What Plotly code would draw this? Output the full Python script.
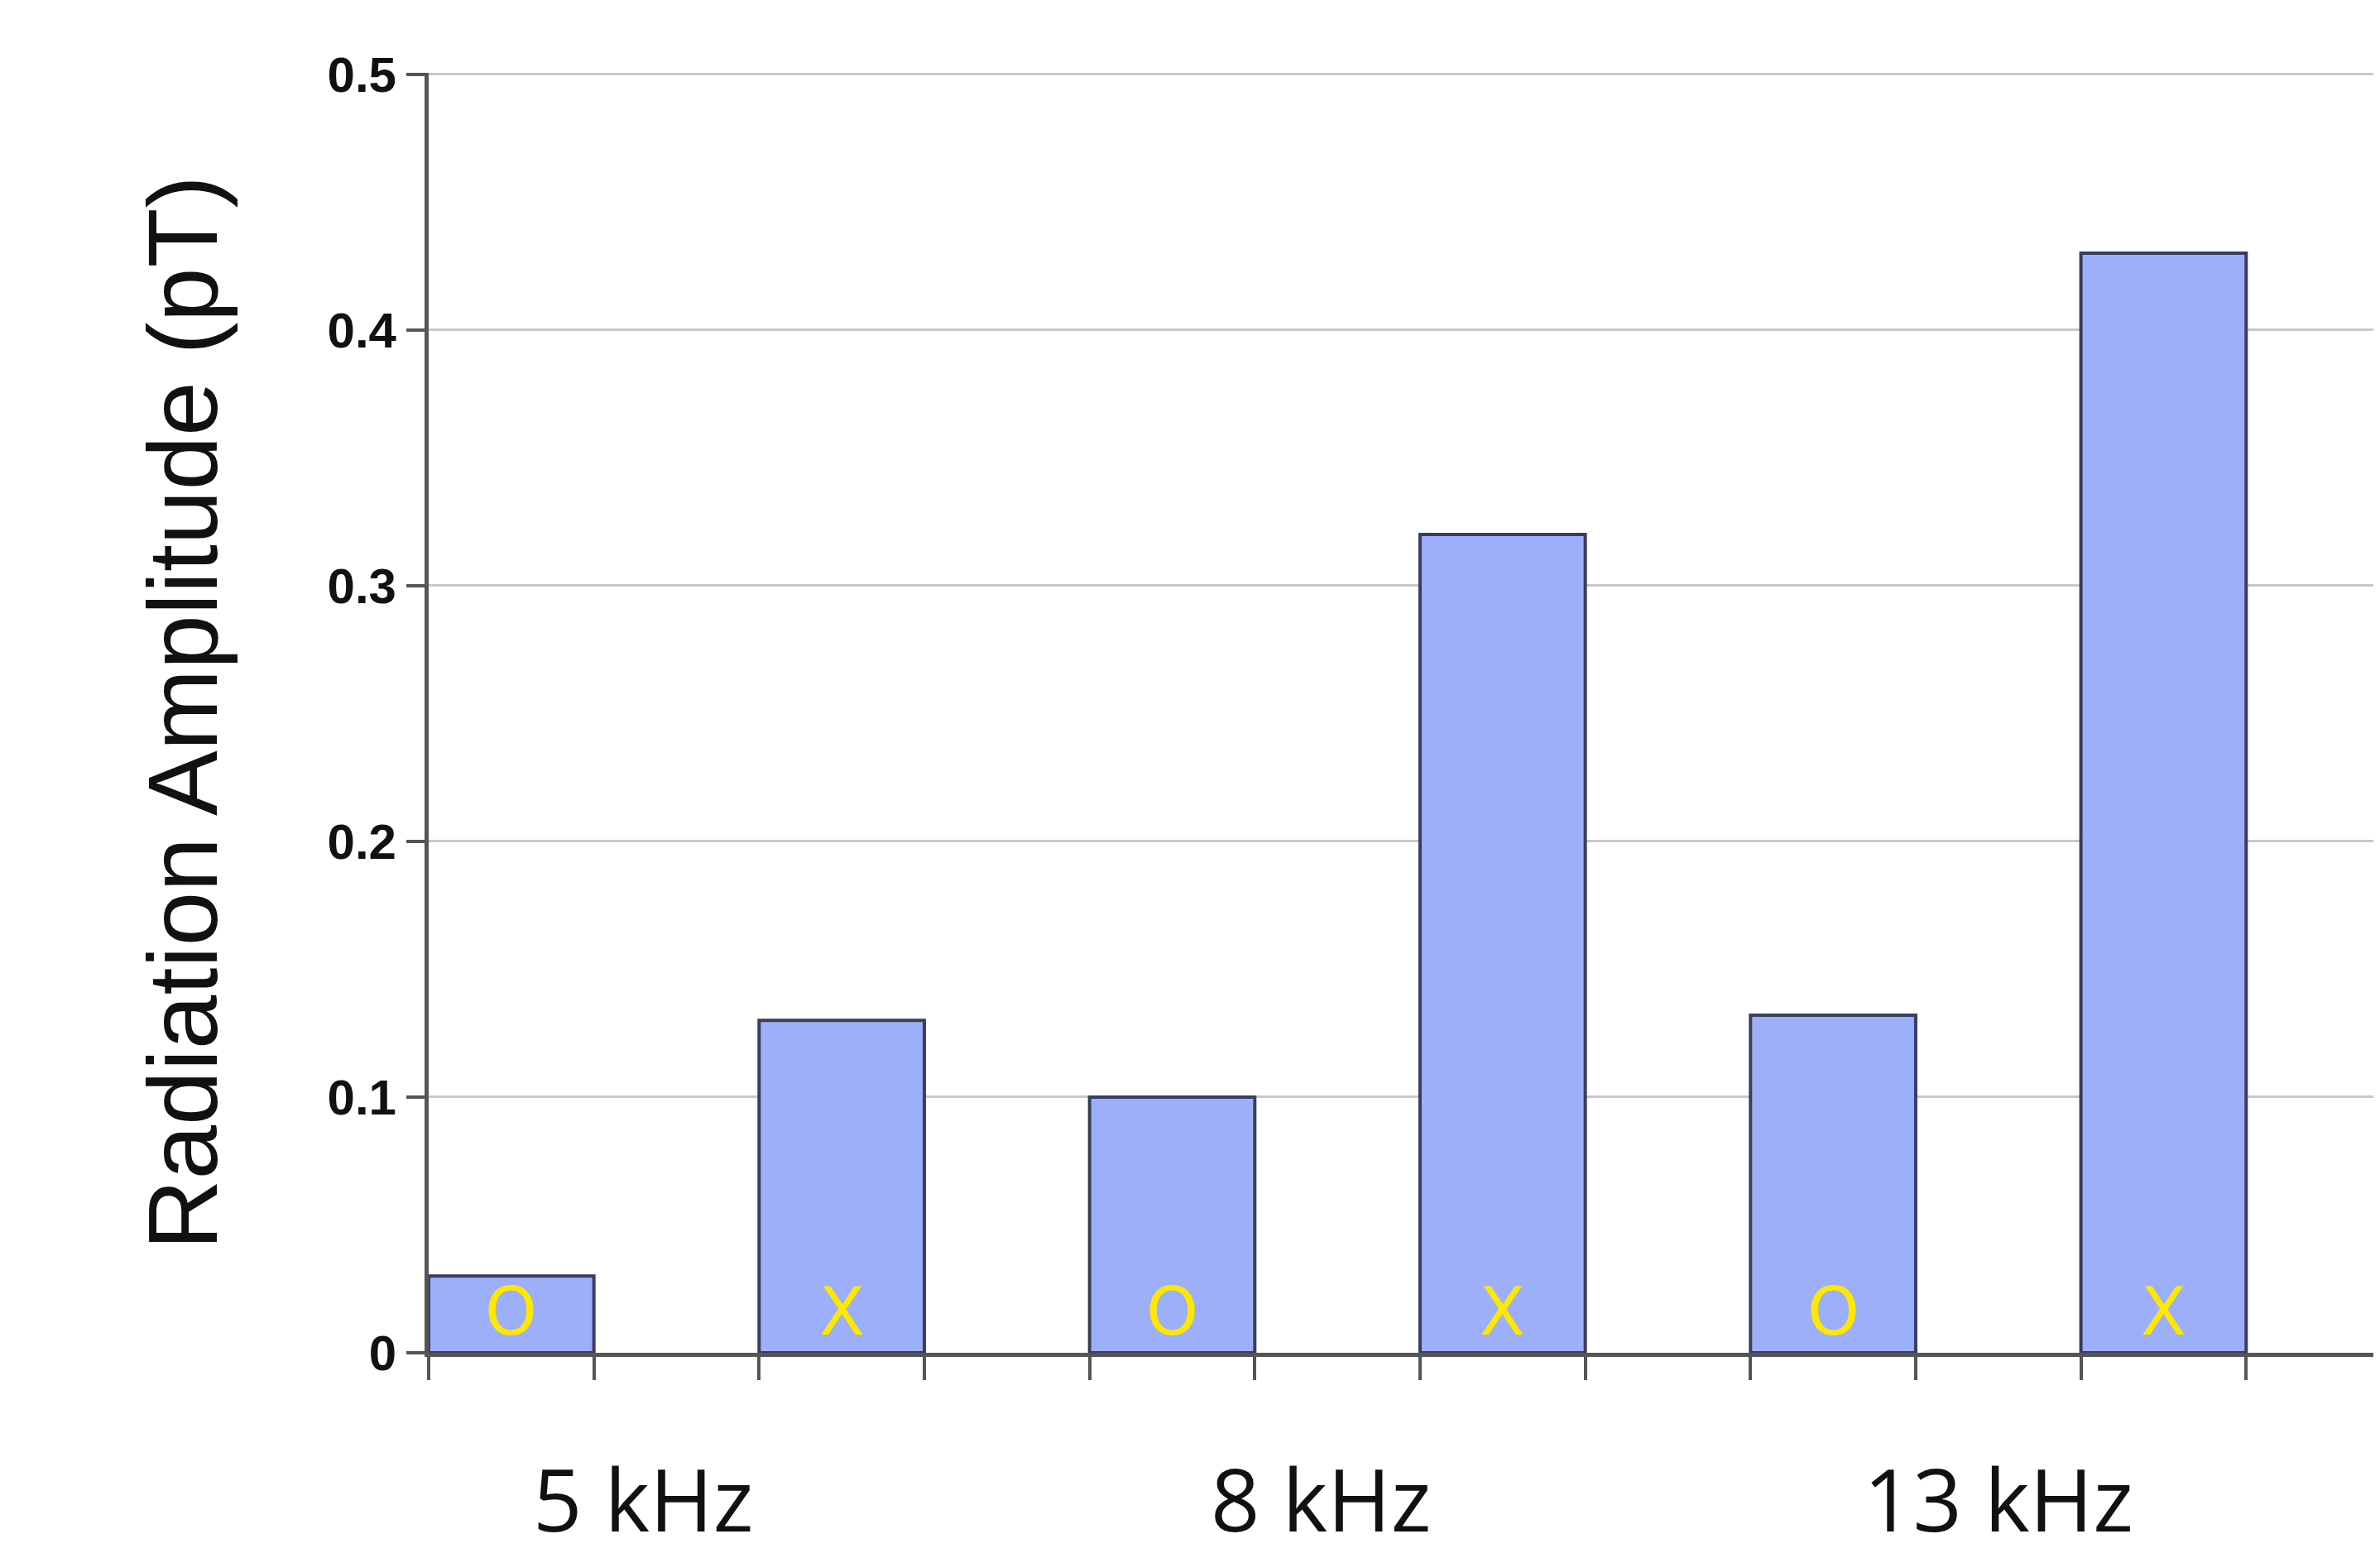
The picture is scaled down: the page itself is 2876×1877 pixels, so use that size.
import plotly.graph_objects as go

groups = ["5 kHz", "8 kHz", "13 kHz"]
group_pos = [0.4, 2.45, 4.5]
markers = ["O", "X", "O", "X", "O", "X"]
values = [0.03, 0.13, 0.10, 0.32, 0.132, 0.43]
yticks = [0, 0.1, 0.2, 0.3, 0.4, 0.5]
ytick_text = ["0", "0.1", "0.2", "0.3", "0.4", "0.5"]

xs = list(range(len(values)))
fig = go.Figure(go.Bar(x=xs, y=values, width=0.5,
                       marker=dict(color="#9CAFF8", line=dict(color="#3a3d5c", width=4))))

for x, m in zip(xs, markers):
    fig.add_annotation(x=x, y=0.016, text=m, showarrow=False,
                       font=dict(size=80, color="#FFE800", family="DejaVu Sans"))
for g, p in zip(groups, group_pos):
    fig.add_annotation(x=p, y=0, yshift=-175, text=g, showarrow=False,
                       font=dict(size=104, color="#111", family="Open Sans"))

edges = []
for x in xs:
    edges += [x - 0.25, x + 0.25]

fig.update_layout(
    width=2876, height=1877, plot_bgcolor="white", paper_bgcolor="white",
    margin=dict(l=510, r=10, t=80, b=250), showlegend=False,
    xaxis=dict(range=[-0.25, 5.65], tickvals=edges, ticktext=[""] * len(edges),
               ticks="outside", ticklen=28, tickwidth=4, tickcolor="#555",
               showline=True, linecolor="#555", linewidth=5, showgrid=False, zeroline=False),
    yaxis=dict(range=[0, 0.5005], tickvals=yticks, ticktext=ytick_text,
               ticks="outside", ticklen=22, tickwidth=4, tickcolor="#555",
               showline=True, linecolor="#555", linewidth=5,
               showgrid=True, gridcolor="#c8c8c8", gridwidth=3, zeroline=False,
               tickfont=dict(size=60, family="Liberation Sans", color="#111", weight="bold"),
               title=dict(text="Radiation Amplitude (pT)", standoff=95,
                          font=dict(size=118, family="Liberation Sans", color="#111"))),
)
fig.write_html("out.html")
